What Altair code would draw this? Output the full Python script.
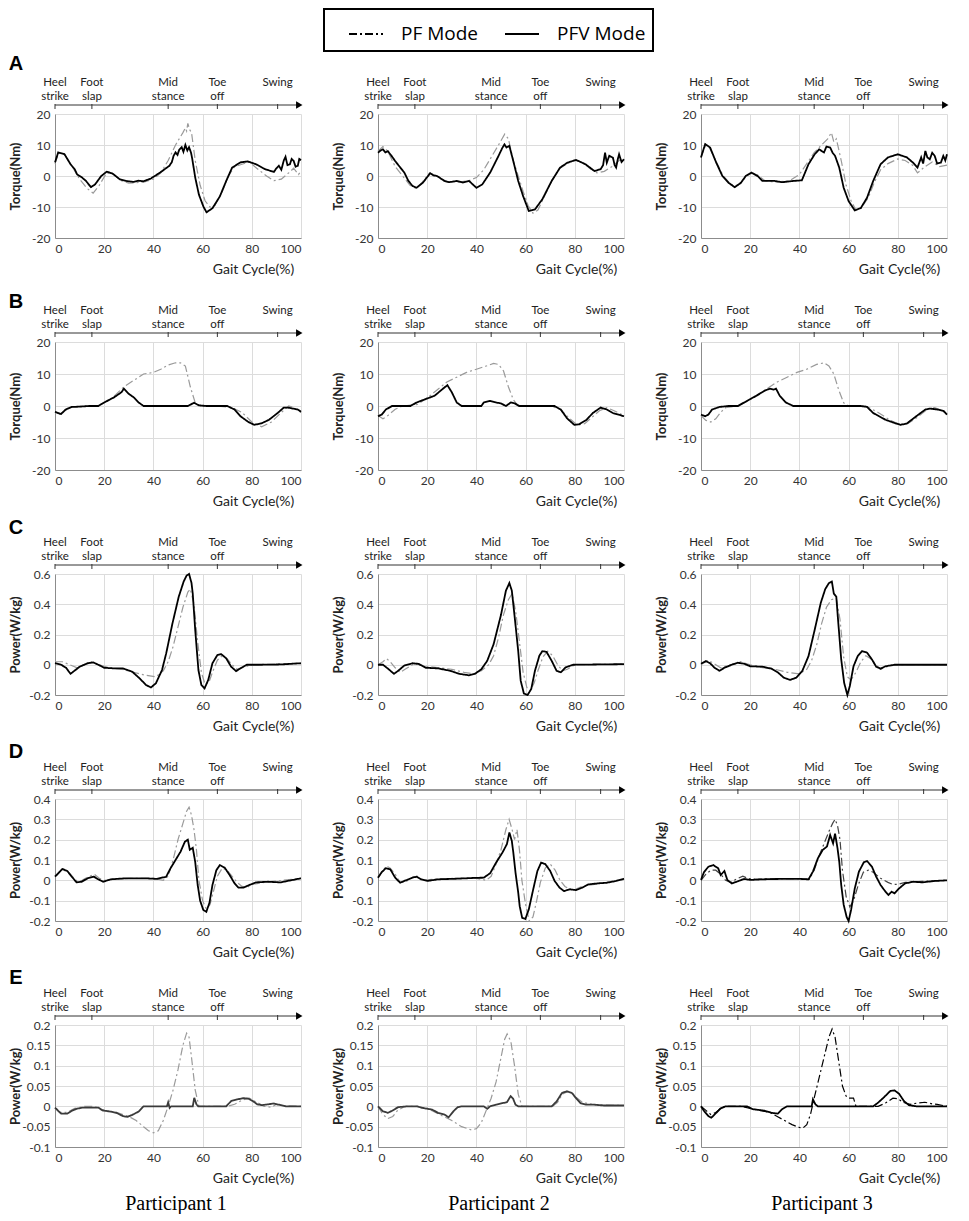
import altair as alt
import pandas as pd

# ---------------- data ----------------
MODES = ["PF Mode", "PFV Mode"]
PHASE_X = [0, 15, 46, 66, 90.5]
PHASE_LABELS = ["Heel\nstrike", "Foot\nslap", "Mid\nstance", "Toe\noff", "Swing"]
ARROW_HEAD_X = 99.3
X_TICKS = [0, 20, 40, 60, 80, 100]
PARTICIPANTS = ["Participant 1", "Participant 2", "Participant 3"]
ROW_LETTERS = ["A", "B", "C", "D", "E"]
TORQUE_TICKS = [-20, -10, 0, 10, 20]
C_TICKS = [-0.2, 0, 0.2, 0.4, 0.6]
D_TICKS = [-0.2, -0.1, 0, 0.1, 0.2, 0.3, 0.4]
E_TICKS = [-0.1, -0.05, 0, 0.05, 0.1, 0.15, 0.2]

# Row A: ankle torque (Nm)
A1_PFV = [(0,4.4),(1.3,7.6),(3.8,7.1),(6.3,3.8),(8,2.2),(9,0.5),(10,0),(11,-0.5),(12.6,-1.6),(14.6,-3.6),(16.3,-2.7),(18.8,0),(21,1.4),(23.4,0.8),(26.4,-1.1),(29,-1.6),(32,-1.9),(34,-1.5),(36,-1.7),(39,-0.8),(42.7,1.1),(46.5,3.3),(47.5,4.5),(48.2,6.5),(49,7.6),(49.8,6.8),(50.5,8.5),(51.5,9.3),(52.2,7.8),(53,10),(53.8,8.2),(54.5,9.3),(55.3,7.5),(55.8,5.5),(57,-0.5),(58.5,-6),(60.3,-9.8),(61.6,-11.7),(64,-10.4),(67,-6.6),(69.6,-1.6),(72,2.7),(75.4,4.4),(78.4,4.7),(81.7,3.8),(85.4,2.2),(89,1.3),(90,2.5),(91,3.3),(92,2),(93,5),(93.7,6.2),(94.5,3.5),(95.5,3.8),(96.2,5.5),(97,4.9),(97.8,3),(98.7,3.3),(99.3,5.5),(100,5.1)]
A1_PF = [(0,4),(1.5,7.5),(4,6.8),(7,3),(10,-1),(13,-4),(15.5,-5.5),(18,-3),(21,1),(24,0.5),(27,-1.5),(30,-2.3),(36,-2),(40,-1),(43,1),(46,5),(49,10),(52,14),(53,15.5),(53.5,14.5),(54,17),(54.7,15),(55.5,14),(57,5),(59,-3),(61,-8),(63,-10),(65,-9.5),(68,-5),(70.5,0),(73,3),(76,3.8),(79,4.5),(82,2.5),(86,0),(89,-1.5),(92,-1),(95,1),(97,2.5),(99,0.5),(100,1.5)]
A2_PFV = [(0,7.5),(1,8.2),(2,8.6),(3,7.6),(4,8),(5.5,6.5),(7,4.8),(9,2.8),(10.7,1.1),(12.3,-1.5),(14,-3.2),(15.7,-3.8),(18.2,-2.2),(21.2,0.9),(22.5,0.2),(24,0),(27,-1.6),(29,-2),(32,-1.6),(34.5,-2.1),(37,-1.6),(40,-3.8),(42.4,-2.7),(45.6,1.1),(49,6.5),(50.5,9),(51.4,10.2),(52.2,9.2),(53.4,9.7),(55,4.8),(57,-1.6),(59,-6.5),(61.3,-11.3),(63.8,-10.8),(66.8,-7.5),(70.6,-1.6),(74,2.7),(77,4.3),(80.5,5.2),(84.3,3.8),(88,1.6),(90.5,2.2),(91.5,3.5),(92.3,7.5),(93,4.3),(94,6.5),(95.5,5.9),(96.2,3.5),(96.8,2.7),(97.5,5.5),(98,7),(99,4.5),(100,5.4)]
A2_PF = [(0,8),(2,9.5),(4,8),(7,3),(10,0),(13,-3),(15.5,-4),(18,-2),(21,1),(24,0),(28,-1.8),(33,-2),(37,-1.5),(40,-0.5),(43,2),(46,6),(49,10),(51.5,13.5),(53,12),(55,5),(57,0),(59,-5),(61,-9.5),(63,-12),(65,-11),(68,-6),(71,-1),(74,2.5),(77,4),(80,5),(83,4.5),(86,2.5),(89,1),(92,1.5),(95,3),(98,5),(100,5.5)]
A3_PFV = [(0,6),(1.7,10.3),(3.7,9.2),(6.2,4.3),(8.7,0),(11.2,-2.2),(13.7,-3.6),(16.2,-2.2),(18.2,0),(20.5,1.1),(23,0),(25,-1.6),(30,-1.6),(33,-2),(37.5,-1.6),(41,-1.4),(43.7,3.8),(46.2,7),(48,8.6),(50,7.6),(51,9.5),(52.5,9.2),(53.5,7.5),(54.5,6.5),(56.2,2.7),(58,-3.8),(60,-8.1),(62.5,-11.1),(65,-10.3),(67.5,-7),(70,-1.6),(73,3.8),(76,6),(80,7),(83.7,6),(86.2,4.3),(88,2.7),(89.5,6),(90.3,4),(91.2,8.1),(92,6),(93,5.4),(94,7.5),(95,6.5),(96,4),(97.5,4.3),(98.5,6.5),(99.3,5),(100,7)]
A3_PF = [(0,6),(1.5,9.5),(3.5,9),(6,5),(9,0),(12,-2.5),(14,-3.5),(16,-2.5),(18.5,0),(21,1),(23,0.3),(26,-1.5),(30,-2),(36,-1.5),(40,0.5),(43,4),(46,7.5),(49,10),(51.5,12),(53,14),(54,11),(55,12),(57,5),(59,-3),(61,-8),(63,-11),(65,-10.5),(68,-7),(70.5,-2),(73,2),(76,4),(80,5.5),(83,5),(86,3.5),(88,1),(91,3),(94,4.5),(97,3),(100,3.5)]

# Row B: ankle torque (Nm)
B1_PFV = [(0,-1.8),(1.3,-2.2),(2.5,-2.5),(4.3,-1.1),(6.8,-0.3),(10,-0.2),(13.8,0),(17.6,0),(20,1.1),(24,2.7),(27,4.3),(28,5.4),(30,3.8),(32,2.7),(34,1.1),(36,0),(54,0),(56.5,1),(58.5,0.2),(61.5,0),(70,0),(73,-1.1),(75.4,-3.2),(78.6,-5),(81,-5.9),(84,-5.4),(87,-4.3),(90.5,-2.2),(93,-0.5),(94.7,-0.5),(96.7,-0.8),(98.7,-1.1),(100,-1.8)]
B1_PF = [(0,-2),(2,-2.5),(4,-1.5),(7,-0.3),(10,0),(17,0),(20,1),(24,3),(28,6),(32,8),(36,10),(40,10.5),(43,11.5),(46,12.8),(49,13.5),(51,13.5),(53,12.5),(55,6),(57,1),(59,0),(66,0),(72,-0.5),(76,-2),(80,-5),(84,-6.5),(88,-5),(92,-2),(95,0),(97,-0.5),(100,-2)]
B2_PFV = [(0,-3.2),(1.5,-2.7),(3.2,-1.1),(5.7,0),(13.2,0),(15.7,1.1),(19.5,2.2),(23,3.2),(26.4,5.4),(28.2,6.5),(30,4.3),(32,1.1),(34,0),(42,0),(43,1.1),(45.6,1.6),(48,1.1),(50,0.8),(52,0),(54,1.1),(55.6,0.8),(57.4,0),(71.8,0),(74.3,-1.1),(76.8,-3.8),(79.8,-5.9),(81.8,-5.7),(84.8,-4.3),(87.3,-2.2),(90.5,-0.5),(93,-1.1),(95.5,-2.2),(100,-3.2)]
B2_PF = [(0,-3),(2,-4),(4,-3),(7,-1),(10,0),(16,0.5),(20,2.5),(24,5),(28,7.5),(32,9),(36,10.5),(40,11.5),(44,12.5),(47,13.3),(49,13),(51,11),(53,6),(55,2),(57,0),(70,0),(74,-1),(78,-4),(81,-6),(84,-5.5),(87,-3.5),(90,-1.5),(93,-0.5),(96,-1.5),(100,-3)]
B3_PFV = [(0,-2.7),(1.7,-3.2),(3,-2.7),(4.5,-1.1),(7.5,-0.3),(11,0),(15,0),(18.7,1.6),(22.5,3.2),(26.2,4.9),(28,5.4),(29.5,5.1),(30.5,5.4),(32,3.2),(34.5,1.1),(37.5,0),(65,0),(67.5,-0.3),(70,-2.2),(75,-4.3),(79,-5.4),(81.2,-5.9),(83.8,-5.4),(87.5,-3.2),(91.2,-1.1),(93,-0.8),(96.2,-1.1),(98.7,-1.6),(100,-2.7)]
B3_PF = [(0,-3),(2,-4.5),(4,-5),(6,-4),(8,-2),(10,-0.5),(15,0),(19,1.5),(23,3.5),(27,5.5),(31,7.5),(35,9),(39,10.5),(43,11.5),(47,13),(50,13.5),(52,12.5),(54,10),(56,5),(58,1),(60,0),(67,0),(72,-2),(77,-4.5),(81,-5.8),(84,-5.5),(88,-3.5),(92,-1),(95,-0.5),(98,-1.5),(100,-2.5)]

# Row C: ankle power (W/kg)
C1_PFV = [(0,0.01),(2.5,0),(4.5,-0.02),(6.3,-0.06),(8.3,-0.035),(10,-0.013),(13.3,0.01),(15.6,0.015),(17.6,0),(20,-0.02),(24,-0.024),(27.6,-0.024),(31.4,-0.046),(34.4,-0.09),(37,-0.134),(39,-0.15),(41,-0.123),(43.5,-0.035),(45.2,0.075),(47.7,0.27),(50.3,0.45),(52.3,0.55),(53.5,0.59),(54.5,0.6),(55.5,0.54),(56,0.47),(57,0.23),(58.3,-0.035),(59.5,-0.134),(60.8,-0.156),(62.3,-0.1),(64,0.01),(66,0.064),(67.6,0.07),(69.6,0.042),(71.6,-0.013),(73.6,-0.042),(75.4,-0.024),(78,0),(84,0),(91.7,0.002),(100,0.01)]
C1_PF = [(0,0.02),(3,0.02),(6,0.0),(9,-0.02),(12,0.0),(15,0.02),(18,0.0),(22,-0.02),(27,-0.03),(32,-0.05),(37,-0.07),(41,-0.08),(44,-0.04),(46,0.02),(48,0.12),(50,0.25),(52,0.38),(54,0.48),(55,0.5),(56.5,0.4),(58,0.15),(59.5,-0.05),(61,-0.13),(62.5,-0.12),(64,-0.05),(66,0.03),(68,0.06),(70,0.04),(72,0.0),(74,-0.03),(76,-0.02),(80,0.0),(100,0.01)]
C2_PFV = [(0,0),(2,0),(4,-0.025),(6.5,-0.06),(8.2,-0.04),(10.7,-0.005),(14,0.01),(16.5,0.005),(19.5,-0.02),(24.4,-0.024),(29.4,-0.04),(33,-0.06),(37,-0.07),(39.4,-0.06),(42,-0.03),(44.4,0.026),(47,0.136),(50,0.33),(52,0.49),(53.4,0.54),(54.4,0.49),(55.6,0.31),(57,0.09),(58,-0.105),(59.3,-0.19),(60.8,-0.2),(62.3,-0.16),(63.8,-0.04),(65.6,0.06),(66.8,0.09),(68.5,0.085),(70.6,0.026),(72.6,-0.04),(74.3,-0.05),(76.3,-0.017),(79.3,0),(100,0.004)]
C2_PF = [(0,0.0),(2,0.02),(3.5,0.04),(5,0.02),(7,-0.02),(9,-0.05),(11,-0.03),(14,0.0),(16,0.01),(19,-0.01),(25,-0.02),(30,-0.03),(35,-0.05),(39,-0.06),(42,-0.04),(45,0.0),(47,0.06),(49,0.18),(51,0.33),(53,0.43),(54.5,0.47),(56,0.35),(57.5,0.15),(59,-0.05),(60.5,-0.15),(62,-0.17),(63.5,-0.12),(65,-0.04),(67,0.05),(69,0.09),(71,0.06),(73,0.0),(75,-0.04),(77,-0.03),(80,0.0),(100,0.005)]
C3_PFV = [(0,0.007),(2,0.024),(3.7,0.01),(5.5,-0.02),(7.5,-0.04),(9.5,-0.02),(12.5,0),(15,0.013),(17.5,0.007),(20,-0.01),(25,-0.013),(28.7,-0.026),(31.2,-0.05),(33.7,-0.086),(36.2,-0.1),(38.7,-0.086),(41.2,-0.04),(43.7,0.057),(46.2,0.23),(48.7,0.41),(50.5,0.5),(52,0.54),(53.2,0.55),(54,0.47),(55,0.45),(55.7,0.3),(57,0.035),(58.2,-0.12),(59.5,-0.2),(60.5,-0.14),(62,-0.01),(63.7,0.057),(65.5,0.09),(67.5,0.08),(69.5,0.035),(71.2,-0.013),(73,-0.026),(75,-0.01),(78.7,0),(100,0)]
C3_PF = [(0,0.0),(3,0.03),(5,0.01),(8,-0.02),(12,0.0),(16,0.02),(20,0.0),(25,-0.02),(30,-0.03),(35,-0.05),(40,-0.06),(43,-0.03),(45,0.03),(47,0.13),(49,0.27),(51,0.38),(53,0.43),(55,0.44),(56.5,0.3),(58,0.05),(59.5,-0.08),(61,-0.1),(63,-0.05),(65,0.02),(67,0.06),(69,0.04),(71,0.0),(73,-0.03),(76,-0.01),(80,0.0),(100,0.0)]

# Row D: ankle power (W/kg)
D1_PFV = [(0,0.018),(1.3,0.034),(3,0.056),(5,0.046),(6.8,0.018),(8.8,-0.01),(10.8,-0.007),(13.3,0.01),(15.8,0.018),(17.6,0.005),(19.6,-0.007),(22.6,0.005),(29,0.01),(36.4,0.01),(41.5,0.007),(45.2,0.018),(47,0.06),(49,0.1),(51,0.14),(52.8,0.19),(54,0.2),(54.8,0.15),(56,0.16),(57,0.09),(58,-0.023),(59,-0.1),(60.3,-0.146),(61.5,-0.155),(62.8,-0.11),(64,-0.023),(65.6,0.05),(67,0.075),(69,0.062),(71,0.026),(73,-0.015),(74.6,-0.036),(76.6,-0.036),(79,-0.023),(81.7,-0.01),(86.7,-0.007),(91.7,-0.01),(96.7,0.002),(100,0.01)]
D1_PF = [(0,0.02),(1.5,0.04),(3,0.05),(5,0.045),(7,0.02),(9,-0.005),(11,0.0),(14,0.02),(16,0.03),(18,0.01),(20,0.0),(24,0.005),(30,0.01),(40,0.01),(44,0.0),(46,0.02),(48,0.1),(50,0.2),(52,0.28),(53.5,0.34),(54.5,0.36),(55.5,0.32),(56.5,0.25),(57.5,0.15),(58.5,0.0),(60,-0.1),(61.5,-0.14),(63,-0.12),(64.5,-0.05),(66,0.02),(68,0.06),(70,0.05),(72,0.02),(74,-0.01),(76,-0.03),(78,-0.035),(80,-0.02),(85,-0.01),(100,0.01)]
D2_PFV = [(0,0.013),(1.5,0.04),(3.2,0.06),(5,0.054),(7,0.013),(9,-0.012),(10.7,-0.003),(14,0.013),(15.7,0.018),(17.5,0.005),(20,-0.003),(24.4,0.005),(32,0.008),(39.4,0.012),(43,0.013),(45.6,0.035),(48,0.087),(50.6,0.137),(52.4,0.178),(53.4,0.235),(54.4,0.194),(55,0.137),(55.9,0.038),(57,-0.06),(57.6,-0.127),(58.6,-0.184),(59.9,-0.19),(61.3,-0.143),(63.1,-0.044),(64.8,0.046),(66.3,0.087),(68,0.08),(70,0.046),(71.8,-0.003),(73.8,-0.036),(75.6,-0.053),(78,-0.044),(80.5,-0.048),(83,-0.036),(85.5,-0.02),(89.3,-0.015),(93,-0.012),(96.8,-0.003),(100,0.008)]
D2_PF = [(0,0.01),(2,0.05),(3.5,0.07),(5,0.06),(7,0.03),(9,-0.01),(11,-0.01),(14,0.015),(16,0.02),(18,0.0),(22,0.005),(30,0.01),(40,0.01),(44,0.0),(46,0.02),(48,0.08),(50,0.15),(52,0.25),(53.3,0.3),(54.5,0.25),(55.5,0.2),(56.5,0.25),(57.5,0.15),(58.5,0.0),(60,-0.12),(61.5,-0.2),(63,-0.18),(64.5,-0.1),(66,-0.01),(68,0.06),(70,0.08),(72,0.05),(74,0.0),(76,-0.03),(79,-0.05),(83,-0.03),(88,-0.02),(100,0.005)]
D3_PFV = [(0,0.002),(1.2,0.04),(3,0.067),(5,0.075),(7,0.059),(8,0.026),(9.5,0.046),(10.7,0.002),(12.5,-0.015),(14.5,-0.007),(17.5,0.007),(20,0.002),(25,0.005),(32.5,0.007),(40,0.007),(43.7,0.005),(45.5,0.043),(47.5,0.108),(49.5,0.15),(51.2,0.166),(52.5,0.223),(53.7,0.182),(54.5,0.23),(55.5,0.157),(56.2,0.092),(57,-0.023),(58,-0.12),(59.2,-0.18),(60,-0.2),(61,-0.146),(62.5,-0.04),(64.2,0.043),(66.2,0.089),(67.5,0.095),(69.5,0.067),(71.2,0.018),(73,-0.023),(75,-0.056),(76.2,-0.072),(77.5,-0.056),(78.7,-0.064),(80.5,-0.04),(83,-0.015),(86.2,-0.007),(90,-0.01),(95,-0.003),(100,0)]
D3_PF = [(0,0.0),(2,0.03),(4,0.05),(6,0.05),(8,0.03),(10,0.0),(12,-0.01),(15,0.01),(17,0.02),(19,0.01),(22,0.005),(30,0.008),(40,0.008),(44,0.005),(46,0.05),(48,0.12),(50,0.18),(52,0.24),(53.5,0.28),(54.5,0.3),(55.5,0.27),(56.5,0.2),(57.5,0.05),(59,-0.08),(60.5,-0.13),(62,-0.1),(64,-0.02),(66,0.04),(68,0.05),(70,0.04),(73,0.01),(76,-0.01),(78,-0.02),(80,-0.02),(83,-0.01),(90,-0.005),(100,0.0)]

# Row E: ankle power (W/kg)
E1_PFV = [(0,-0.003),(1.3,-0.011),(2.5,-0.018),(5,-0.018),(6.8,-0.011),(8.8,-0.006),(11.3,-0.003),(15,-0.003),(17.6,-0.003),(19.3,-0.01),(22.6,-0.013),(25,-0.016),(27.6,-0.024),(29.4,-0.026),(31.4,-0.021),(34,-0.013),(36,0),(45.5,0),(46,0.01),(46.6,-0.004),(47.2,0),(56,0),(56.6,0.021),(57.5,0.005),(58.2,0),(69.6,0),(71.6,0.013),(74,0.017),(76.6,0.02),(78.6,0.019),(80.4,0.013),(82.2,0.005),(84,0.003),(86.7,0.005),(89,0.007),(91.7,0.003),(94,0),(100,0)]
E1_PF = [(0,-0.005),(2,-0.015),(5,-0.015),(8,-0.005),(12,0.0),(16,0.0),(20,-0.01),(25,-0.015),(30,-0.025),(33,-0.035),(36,-0.05),(38,-0.06),(40,-0.065),(42,-0.06),(44,-0.035),(46,0.0),(48,0.04),(50,0.09),(52,0.15),(53.5,0.18),(54.5,0.17),(55.5,0.12),(57,0.04),(58.5,0.0),(70,0.0),(73,0.005),(76,0.015),(79,0.02),(82,0.01),(85,0.0),(88,-0.002),(90,0.005),(93,0.002),(100,0.0)]
E2_PFV = [(0,0),(2,-0.012),(4,-0.016),(5.7,-0.011),(8.2,-0.002),(12,0),(15.7,0),(18.2,-0.004),(22,-0.008),(24.4,-0.016),(27,-0.02),(28.7,-0.027),(30.7,-0.012),(32.4,-0.002),(34,0),(43,0),(44.4,-0.006),(45.6,0),(48,0.004),(50.6,0.008),(52.4,0.01),(53.9,0.025),(54.9,0.019),(55.9,0.004),(57,0),(70.6,0),(72.6,0.012),(74.8,0.033),(76.8,0.037),(78.8,0.033),(80.5,0.02),(82.3,0.008),(84.8,0.004),(88,0.004),(91.8,0.002),(96.8,0.002),(100,0.002)]
E2_PF = [(0,0.0),(2,-0.02),(4,-0.03),(6,-0.025),(8,-0.01),(11,0.0),(16,0.0),(20,-0.005),(25,-0.02),(30,-0.035),(34,-0.05),(38,-0.058),(40,-0.055),(42,-0.04),(44,-0.01),(46,0.02),(48,0.06),(50,0.12),(51.5,0.165),(52.5,0.178),(54,0.16),(55.5,0.1),(57,0.03),(58.5,0.0),(71,0.0),(73,0.01),(75,0.03),(77,0.036),(79,0.033),(81,0.02),(83,0.01),(87,0.005),(92,0.003),(100,0.002)]
E3_PFV = [(0,0),(1.2,-0.011),(3,-0.024),(4.2,-0.028),(6.2,-0.016),(8,-0.005),(10,0),(18.7,0),(21,-0.007),(26,-0.011),(28.7,-0.016),(31.2,-0.018),(33,-0.007),(35,0),(45,0),(45.5,0.017),(46.5,0.005),(47.5,0),(70,0),(72,0.009),(74.5,0.023),(77,0.038),(78.7,0.039),(80.5,0.031),(82.5,0.013),(84.5,0.003),(87.5,0),(100,0)]
E3_PF = [(0,0.0),(2,-0.01),(4,-0.02),(6,-0.015),(8,-0.005),(10,0.0),(16,0.0),(20,-0.005),(24,-0.01),(28,-0.015),(31,-0.025),(34,-0.035),(37,-0.045),(40,-0.052),(41.5,-0.053),(43,-0.045),(44.5,-0.02),(46,0.02),(48,0.07),(50,0.12),(52,0.17),(53.3,0.19),(54.5,0.17),(56,0.11),(57.5,0.05),(59,0.025),(60,0.02),(62,0.02),(63,0.0),(72,0.0),(75,0.008),(78,0.02),(80,0.019),(82,0.01),(85,0.005),(88,0.008),(91,0.01),(94,0.006),(96,0.005),(100,0.0)]

# ---------------- layout / style ----------------
GRAY = "#9a9a9a"
ROWS = [
    dict(domain=[-20, 20], ticks=TORQUE_TICKS, title="Torque(Nm)", height=124, letter_y=-50),
    dict(domain=[-20, 20], ticks=TORQUE_TICKS, title="Torque(Nm)", height=128, letter_y=-40),
    dict(domain=[-0.2, 0.6], ticks=C_TICKS, title="Power(W/kg)", height=121, letter_y=-46),
    dict(domain=[-0.2, 0.4], ticks=D_TICKS, title="Power(W/kg)", height=122, letter_y=-47),
    dict(domain=[-0.1, 0.2], ticks=E_TICKS, title="Power(W/kg)", height=122, letter_y=-47),
]
PANELS = [
    [(A1_PF, A1_PFV, GRAY, "black"), (A2_PF, A2_PFV, GRAY, "black"), (A3_PF, A3_PFV, GRAY, "black")],
    [(B1_PF, B1_PFV, GRAY, "black"), (B2_PF, B2_PFV, GRAY, "black"), (B3_PF, B3_PFV, GRAY, "black")],
    [(C1_PF, C1_PFV, GRAY, "black"), (C2_PF, C2_PFV, GRAY, "black"), (C3_PF, C3_PFV, GRAY, "black")],
    [(D1_PF, D1_PFV, GRAY, "black"), (D2_PF, D2_PFV, GRAY, "black"), (D3_PF, D3_PFV, "#444444", "black")],
    [(E1_PF, E1_PFV, GRAY, "#3a3a3a"), (E2_PF, E2_PFV, GRAY, "#3a3a3a"), (E3_PF, E3_PFV, "black", "black")],
]
W = 246

LEG = alt.Legend(
    title=None, orient="none", legendX=269, legendY=-105, direction="horizontal",
    symbolType="stroke", symbolSize=1156, symbolStrokeWidth=2, symbolStrokeColor="black",
    labelFontSize=19, labelFont="Open Sans", labelColor="black", labelOffset=17,
    symbolOffset=17, columnPadding=9, padding=7, strokeColor="black",
)

phase_df = pd.DataFrame({"x": PHASE_X, "label": PHASE_LABELS})


def panel(r, c):
    row = ROWS[r]
    pf, pfv, pfc, pfvc = PANELS[r][c]
    xs = alt.Scale(domain=[0, 100], nice=False, zero=False)
    xaxis = alt.Axis(values=X_TICKS, title="Gait Cycle(%)", titleX=198, titleY=31,
                     titleBaseline="middle", grid=True)

    def X():
        return alt.X("x:Q", scale=xs, axis=xaxis)

    Y = alt.Y("y:Q", scale=alt.Scale(domain=row["domain"], nice=False, zero=False),
              axis=alt.Axis(values=row["ticks"], title=row["title"], titleX=-40,
                            titleBaseline="middle", labelExpr="'' + datum.value", grid=True))
    sd = alt.StrokeDash("mode:N", scale=alt.Scale(domain=MODES, range=[[8, 3, 2, 3], [1, 0]]),
                        legend=LEG)

    df_pf = pd.DataFrame(pf, columns=["x", "y"]).assign(mode="PF Mode")
    df_pfv = pd.DataFrame(pfv, columns=["x", "y"]).assign(mode="PFV Mode")

    pf_line = alt.Chart(df_pf).mark_line(color=pfc, strokeWidth=1.2).encode(x=X(), y=Y, strokeDash=sd)
    pfv_line = alt.Chart(df_pfv).mark_line(color=pfvc, strokeWidth=1.8).encode(x=X(), y=Y, strokeDash=sd)

    arrow = alt.Chart(pd.DataFrame({"x": [0], "x2": [ARROW_HEAD_X]})).mark_rule(
        color="#333333", strokeWidth=1).encode(x=X(), x2="x2:Q", y=alt.value(-9))
    head = alt.Chart(pd.DataFrame({"x": [ARROW_HEAD_X]})).mark_point(
        shape="triangle-right", filled=True, size=55, color="black", opacity=1).encode(
        x=X(), y=alt.value(-9))
    ticks = alt.Chart(phase_df).mark_rule(color="#333333", strokeWidth=1).encode(
        x=X(), y=alt.value(-10), y2=alt.value(-5))
    labels = alt.Chart(phase_df).mark_text(
        lineBreak="\n", lineHeight=14, fontSize=11.5, font="Lato", color="#222222",
        align="center", baseline="middle").encode(x=X(), y=alt.value(-31), text="label:N")

    layers = [pf_line, pfv_line, arrow, ticks, head, labels]
    if c == 0:
        letter = alt.Chart(pd.DataFrame({"t": [ROW_LETTERS[r]]})).mark_text(
            fontSize=20, fontWeight="bold", font="Liberation Sans", color="black",
            align="center", baseline="middle").encode(
            x=alt.value(-39), y=alt.value(row["letter_y"]), text="t:N")
        layers.append(letter)
    if r == len(ROWS) - 1:
        part = alt.Chart(pd.DataFrame({"t": [PARTICIPANTS[c]]})).mark_text(
            fontSize=20, font="Liberation Serif", color="black",
            align="center", baseline="middle").encode(
            x=alt.value(121), y=alt.value(row["height"] + 57), text="t:N")
        layers.append(part)
    return alt.layer(*layers).properties(width=W, height=row["height"])


panels = [panel(r, c) for r in range(5) for c in range(3)]

chart = alt.ConcatChart(
    concat=panels, columns=3, spacing={"row": 104, "column": 77}, bounds="flush",
    padding={"left": 0, "top": 0, "right": 2, "bottom": 0},
).configure_axis(
    labelFont="Lato", labelFontSize=12, labelColor="#333333", labelPadding=5,
    titleFont="Lato", titleColor="#222222",
    ticks=False, domainColor="#8c8c8c", gridColor="#dcdcdc",
).configure_axisY(titleFontWeight="bold", titleFontSize=13).configure_axisX(
    titleFontWeight="normal", titleFontSize=14
).configure_view(
    strokeOpacity=0
).configure_legend(strokeWidth=2)

chart.save("out.html", embed_options={"renderer": "svg", "actions": False})
